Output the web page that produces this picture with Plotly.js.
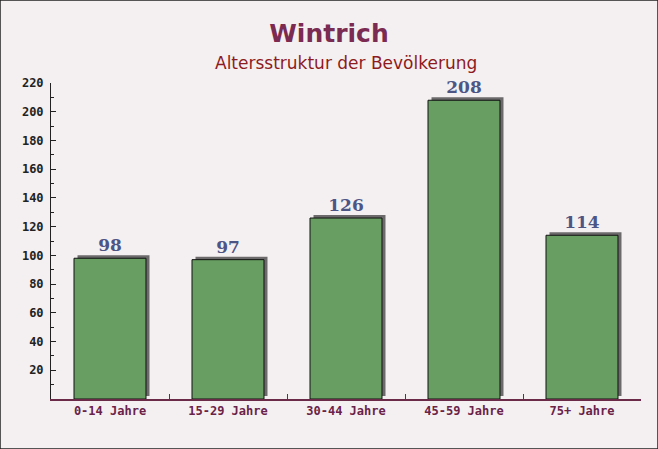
<!DOCTYPE html>
<html>
<head>
<meta charset="utf-8">
<script src="https://cdn.plot.ly/plotly-3.0.1.min.js"></script>
<style>html,body{margin:0;padding:0;background:#f4f0f1;}#chart{width:658px;height:449px;}</style>
</head>
<body>
<div id="chart"></div>
<script>
const categories = ["0-14 Jahre", "15-29 Jahre", "30-44 Jahre", "45-59 Jahre", "75+ Jahre"];
const values = [98, 97, 126, 208, 114];
const yTickValues = [20, 40, 60, 80, 100, 120, 140, 160, 180, 200, 220];

const dx = 3.5 / 118;  // shadow shift right, in category units
const dy = 3 / 1.436;  // shadow shift up, in value units

const shadow = {
  type: 'bar', x: categories, y: values, xaxis: 'x', yaxis: 'y',
  width: 0.61, marker: {color: '#6c6a6b', line: {width: 0}},
  hoverinfo: 'skip', cliponaxis: false
};
const bars = {
  type: 'bar', x: categories, y: values, xaxis: 'x2', yaxis: 'y2',
  width: 0.61,
  marker: {color: 'rgb(104,158,98)', line: {color: '#111', width: 1}},
  text: values.map(String), textposition: 'outside', cliponaxis: false,
  textfont: {family: 'DejaVu Serif, serif', size: 17, color: '#4d5585', weight: 'bold'}
};

const layout = {
  width: 658, height: 449,
  margin: {l: 51, r: 17, t: 83, b: 50},
  paper_bgcolor: '#f4f0f1', plot_bgcolor: 'rgba(0,0,0,0)',
  showlegend: false,
  title: {text: '<b>Wintrich</b>', x: 0.5, xanchor: 'center', y: 0.925, yanchor: 'middle',
          font: {family: 'DejaVu Sans, sans-serif', size: 25, color: '#7b2a52'}},
  annotations: [{text: 'Altersstruktur der Bevölkerung', xref: 'paper', yref: 'paper', x: 0.5, xanchor: 'center',
                 y: 1.063, yanchor: 'middle', showarrow: false,
                 font: {family: 'DejaVu Sans, sans-serif', size: 17, color: '#8e1a22'}}],
  xaxis: {range: [-0.5 - dx, 4.5 - dx], visible: false, fixedrange: true},
  yaxis: {range: [0 - dy, 220 - dy], visible: false, fixedrange: true},
  xaxis2: {overlaying: 'x', range: [-0.5, 4.5], side: 'bottom', showgrid: false, zeroline: false,
           showline: true, linecolor: '#6a2a48', linewidth: 1.5,
           ticks: 'inside', ticklen: 5, tickcolor: '#6a2a48', tickson: 'boundaries',
           tickfont: {family: 'DejaVu Sans Mono, monospace', size: 12, color: '#6a2248', weight: 'bold'}},
  yaxis2: {overlaying: 'y', range: [0, 220], side: 'left', showgrid: false, zeroline: false,
           showline: true, linecolor: '#222', linewidth: 1,
           tickvals: yTickValues, ticks: 'inside', ticklen: 5, tickcolor: '#222',
           ticklabelstandoff: 4,
           minor: {dtick: 10, ticks: 'inside', ticklen: 3, tickcolor: '#222'},
           tickfont: {family: 'DejaVu Sans Mono, monospace', size: 12, color: '#222', weight: 'bold'}},
  shapes: [{type: 'rect', xref: 'paper', yref: 'paper', x0: -51/590, x1: 1 + 17/590, y0: -50/316, y1: 1 + 83/316,
            line: {color: '#222', width: 1.5}, fillcolor: 'rgba(0,0,0,0)'}]
};

Plotly.newPlot('chart', [shadow, bars], layout, {displayModeBar: false, staticPlot: true});
</script>
</body>
</html>
